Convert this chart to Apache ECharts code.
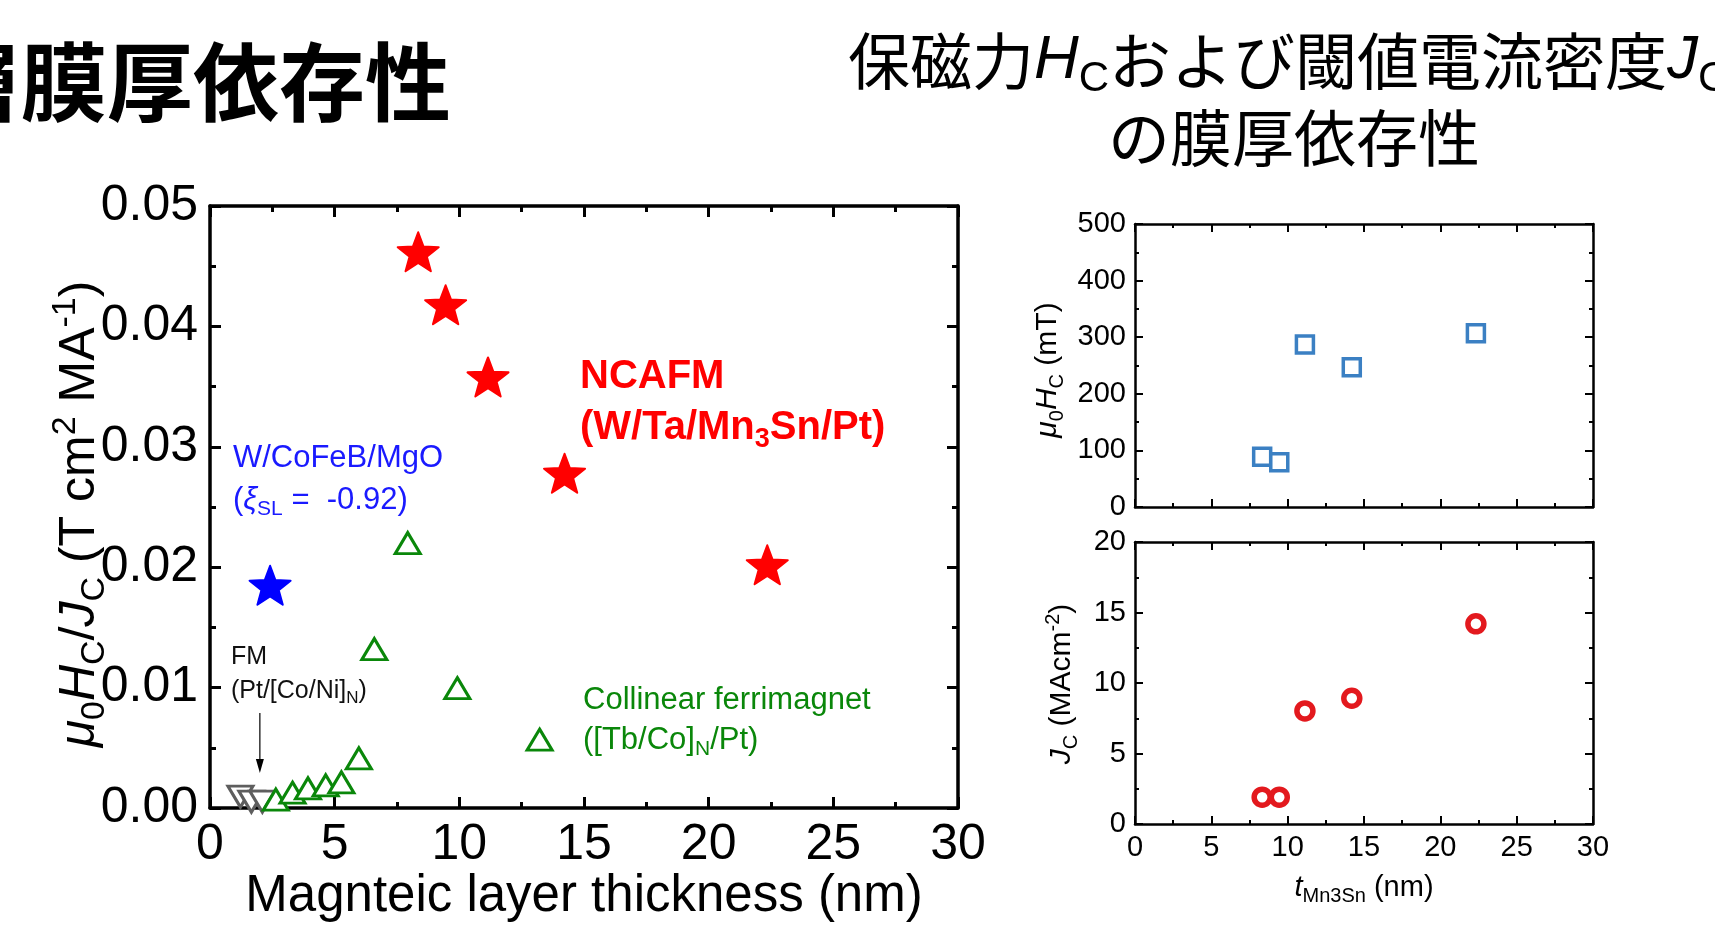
<!DOCTYPE html>
<html>
<head>
<meta charset="utf-8">
<script src="https://cdn.jsdelivr.net/npm/echarts@6/dist/echarts.min.js"></script>
<style>
  html, body { margin: 0; padding: 0; background: #fff; }
  #chart { width: 1715px; height: 936px; }
</style>
</head>
<body>
<div id="chart"></div>
<script>
// Figure of merit μ0Hc/Jc (T cm^2 MA^-1) versus magnetic layer thickness (nm)
const ncafmThickness = [8.35, 9.45, 11.15, 14.22, 22.35];
const ncafmRatio     = [0.0462, 0.0418, 0.0358, 0.0278, 0.0202];
const cofebThickness = [2.41];
const cofebRatio     = [0.0185];
const ferriThickness = [2.64, 3.31, 3.93, 4.64, 5.27, 5.97, 6.59, 7.93, 9.92, 13.22];
const ferriRatio     = [0.0007, 0.00127, 0.00163, 0.00188, 0.00213, 0.00412, 0.0132, 0.0220, 0.00995, 0.00567];
const fmThickness    = [1.22, 1.66, 2.1];
const fmRatio        = [0.00094, 0.00052, 0.00052];

// Mn3Sn thickness series: coercivity (mT) and critical current density (MA cm^-2)
const mn3snThickness = [8.33, 9.45, 11.13, 14.2, 22.33];
const coercivity     = [89, 79, 287, 247, 307];
const criticalJc     = [1.9, 1.9, 8.02, 8.92, 14.2];

// Axis ranges and tick steps
const thicknessTicks = [0, 30, 5];
const ratioTicks     = [0, 0.05, 0.01];
const hcTicks        = [0, 500, 100];
const jcTicks        = [0, 20, 5];

const F = '"Liberation Sans", Arial, Helvetica, sans-serif';
const CJK = '"Noto Sans CJK JP", "Noto Sans CJK SC", sans-serif';

const starPath = 'path://M50,0 L62.34,33.01 L97.55,34.55 L69.97,56.49 L79.39,90.45 L50,71 L20.61,90.45 L30.03,56.49 L2.45,34.55 L37.66,33.01 Z';

const pair = (xs, ys) => xs.map((x, i) => [x, ys[i]]);

const mainStyle = { line: 3.5, tick: 11, minor: 6, tickW: 3, font: 50, margin: 12 };
const sideStyle = { line: 2.5, tick: 8, minor: 4, tickW: 2, font: 29, margin: 9 };

function makeAxis(gridIndex, position, ticks, st, showLabel, fmt) {
  return {
    type: 'value', gridIndex, position,
    min: ticks[0], max: ticks[1], interval: ticks[2],
    axisLine: { show: true, onZero: false, lineStyle: { color: '#000', width: st.line } },
    axisTick: { show: true, inside: true, length: st.tick, lineStyle: { color: '#000', width: st.tickW } },
    minorTick: { show: true, splitNumber: 2, length: st.minor, lineStyle: { color: '#000', width: st.tickW } },
    splitLine: { show: false }, minorSplitLine: { show: false },
    axisLabel: {
      show: showLabel, color: '#000', fontFamily: F, fontSize: st.font, margin: st.margin,
      formatter: fmt, showMinLabel: true, showMaxLabel: true, hideOverlap: false
    },
    axisPointer: { show: false }
  };
}

// rich-text styles: n normal, i italic, s subscript, p superscript
function richSet(size, color, weight, family) {
  const fam = family || F;
  const base = { fontSize: size, fontFamily: fam, fontWeight: weight, fill: color, color: color, lineHeight: Math.round(size * 1.25) };
  const small = Math.round(size * 0.68);
  return {
    n: Object.assign({}, base),
    i: Object.assign({}, base, { fontFamily: F, fontStyle: 'italic' }),
    s: Object.assign({}, base, { fontFamily: F, fontSize: small, lineHeight: small, verticalAlign: 'bottom' }),
    p: Object.assign({}, base, { fontFamily: F, fontSize: small, lineHeight: small, verticalAlign: 'top' })
  };
}

function textEl(x, y, text, size, color, opts) {
  opts = opts || {};
  const align = opts.align || 'left';
  return {
    type: 'text', x, y, rotation: opts.rotation || 0, silent: true, z: 100,
    style: {
      text, rich: richSet(size, color, opts.weight || 'normal', opts.family),
      x: 0, y: 0,
      align, verticalAlign: 'middle', textAlign: align, textVerticalAlign: 'middle',
      fontSize: size, fontFamily: opts.family || F, fontWeight: opts.weight || 'normal', fill: color
    }
  };
}

const chart = echarts.init(document.getElementById('chart'), null, { renderer: 'canvas' });

const option = {
  animation: false,
  backgroundColor: '#fff',
  textStyle: { fontFamily: F },
  grid: [
    { left: 210, top: 206, width: 748, height: 602, outerBoundsMode: 'none', containLabel: false },
    { left: 1135, top: 224, width: 458, height: 283, outerBoundsMode: 'none', containLabel: false },
    { left: 1135, top: 542, width: 458, height: 282, outerBoundsMode: 'none', containLabel: false }
  ],
  xAxis: [
    makeAxis(0, 'bottom', thicknessTicks, mainStyle, true, v => String(v)),
    makeAxis(0, 'top', thicknessTicks, mainStyle, false),
    makeAxis(1, 'bottom', thicknessTicks, sideStyle, false),
    makeAxis(1, 'top', thicknessTicks, sideStyle, false),
    makeAxis(2, 'bottom', thicknessTicks, sideStyle, true, v => String(v)),
    makeAxis(2, 'top', thicknessTicks, sideStyle, false)
  ],
  yAxis: [
    makeAxis(0, 'left', ratioTicks, mainStyle, true, v => v.toFixed(2)),
    makeAxis(0, 'right', ratioTicks, mainStyle, false),
    makeAxis(1, 'left', hcTicks, sideStyle, true, v => String(v)),
    makeAxis(1, 'right', hcTicks, sideStyle, false),
    makeAxis(2, 'left', jcTicks, sideStyle, true, v => String(v)),
    makeAxis(2, 'right', jcTicks, sideStyle, false)
  ],
  series: [
    {
      name: 'FM', type: 'scatter', xAxisIndex: 0, yAxisIndex: 0, clip: false,
      data: pair(fmThickness, fmRatio),
      symbol: 'triangle', symbolRotate: 180, symbolSize: [25, 21],
      itemStyle: { color: '#fff', borderColor: '#5e5e5e', borderWidth: 3, opacity: 1 }
    },
    {
      name: 'Collinear ferrimagnet', type: 'scatter', xAxisIndex: 0, yAxisIndex: 0, clip: false,
      data: pair(ferriThickness, ferriRatio),
      symbol: 'triangle', symbolSize: [25, 21],
      itemStyle: { color: '#fff', borderColor: '#0a870a', borderWidth: 3, opacity: 1 }
    },
    {
      name: 'W/CoFeB/MgO', type: 'scatter', xAxisIndex: 0, yAxisIndex: 0, clip: false,
      data: pair(cofebThickness, cofebRatio),
      symbol: starPath, symbolKeepAspect: true, symbolSize: 41,
      itemStyle: { color: '#0000ff', borderColor: '#0000ff', borderWidth: 2, borderJoin: 'round', opacity: 1 }
    },
    {
      name: 'NCAFM', type: 'scatter', xAxisIndex: 0, yAxisIndex: 0, clip: false,
      data: pair(ncafmThickness, ncafmRatio),
      symbol: starPath, symbolKeepAspect: true, symbolSize: 41,
      itemStyle: { color: '#ff0000', borderColor: '#ff0000', borderWidth: 2, borderJoin: 'round', opacity: 1 }
    },
    {
      name: 'Hc', type: 'scatter', xAxisIndex: 2, yAxisIndex: 2, clip: false,
      data: pair(mn3snThickness, coercivity),
      symbol: 'rect', symbolSize: 17,
      itemStyle: { color: '#fff', borderColor: '#3b80c3', borderWidth: 3.5, opacity: 1 }
    },
    {
      name: 'Jc', type: 'scatter', xAxisIndex: 4, yAxisIndex: 4, clip: false,
      data: pair(mn3snThickness, criticalJc),
      symbol: 'circle', symbolSize: 16,
      itemStyle: { color: '#fff', borderColor: '#e3191e', borderWidth: 5.5, opacity: 1 }
    }
  ]
};

chart.setOption(option);

// Annotations anchored in data coordinates of the main plot
const toPx = (x, y) => chart.convertToPixel({ gridIndex: 0 }, [x, y]);

const notes = [
  { at: [0.84, 0.01254], text: '{n|FM}', size: 25, color: '#111' },
  { at: [0.84, 0.00972], text: '{n|(Pt/[Co/Ni]}{s|N}{n|)}', size: 25, color: '#111' },
  { at: [14.96, 0.00897], text: '{n|Collinear ferrimagnet}', size: 31, color: '#0a870a' },
  { at: [14.96, 0.00565], text: '{n|([Tb/Co]}{s|N}{n|/Pt)}', size: 31, color: '#0a870a' },
  { at: [0.92, 0.02907], text: '{n|W/CoFeB/MgO}', size: 31, color: '#1a1aff' },
  { at: [0.92, 0.02558], text: '{n|(}{i|ξ}{s|SL}{n| =  -0.92)}', size: 31, color: '#1a1aff' },
  { at: [14.84, 0.0358], text: '{n|NCAFM}', size: 40, color: '#ff0000', weight: 'bold' },
  { at: [14.84, 0.03156], text: '{n|(W/Ta/Mn}{s|3}{n|Sn/Pt)}', size: 40, color: '#ff0000', weight: 'bold' }
];

const arrowFrom = toPx(2.0, 0.0079);
const arrowTo = toPx(2.0, 0.0029);

const graphics = notes.map(n => {
  const p = toPx(n.at[0], n.at[1]);
  return textEl(p[0], p[1], n.text, n.size, n.color, { weight: n.weight });
});

graphics.push({
  type: 'line', silent: true, z: 100,
  shape: { x1: arrowFrom[0], y1: arrowFrom[1], x2: arrowTo[0], y2: arrowTo[1] - 10 },
  style: { stroke: '#000', lineWidth: 1.2 }
});
graphics.push({
  type: 'polygon', silent: true, z: 100,
  shape: { points: [[arrowTo[0], arrowTo[1]], [arrowTo[0] - 4, arrowTo[1] - 14], [arrowTo[0] + 4, arrowTo[1] - 14]] },
  style: { fill: '#000' }
});

// Axis titles
graphics.push(textEl(584, 897, '{n|Magnteic layer thickness (nm)}', 51, '#000', { align: 'center' }));
graphics.push(textEl(80, 514, '{i|μ}{s|0}{i|H}{s|C}{n|/}{i|J}{s|C}{n| (T cm}{p|2}{n| MA}{p|-1}{n|)}', 50, '#000', { align: 'center', rotation: Math.PI / 2 }));
graphics.push(textEl(1048, 370, '{i|μ}{s|0}{i|H}{s|C}{n| (mT)}', 30, '#000', { align: 'center', rotation: Math.PI / 2 }));
graphics.push(textEl(1062, 684, '{i|J}{s|C}{n| (MAcm}{p|-2}{n|)}', 30, '#000', { align: 'center', rotation: Math.PI / 2 }));
graphics.push(textEl(1364, 888, '{i|t}{s|Mn3Sn}{n| (nm)}', 29, '#000', { align: 'center' }));

// Slide headings
graphics.push(textEl(451, 82, '{n|層膜厚依存性}', 86, '#000', { align: 'right', weight: 'bold', family: CJK }));
graphics.push(textEl(848, 61, '{n|保磁力}{i|H}{s|C}{n|および閾値電流密度}{i|J}{s|C}', 62, '#000', { family: CJK }));
graphics.push(textEl(1294, 138, '{n|の膜厚依存性}', 62, '#000', { align: 'center', family: CJK }));

chart.setOption({ graphic: { elements: graphics } });
</script>
</body>
</html>
